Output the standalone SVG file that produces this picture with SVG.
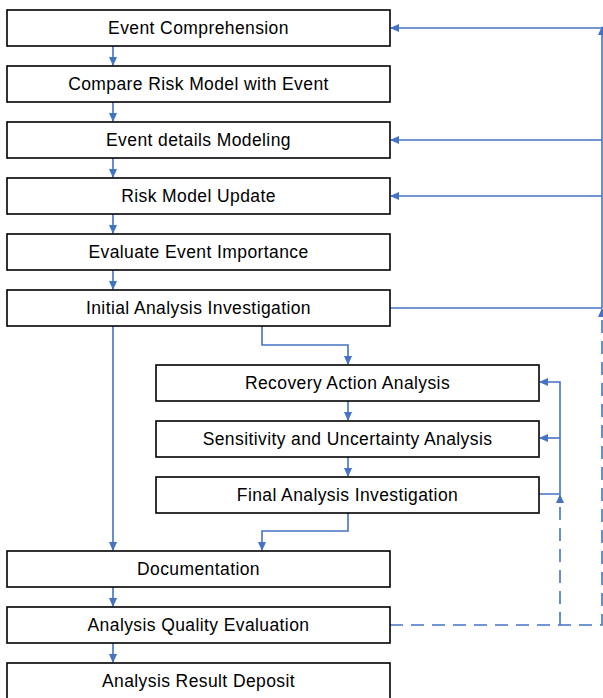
<svg xmlns="http://www.w3.org/2000/svg" width="603" height="698" viewBox="0 0 603 698">
<style>
.box{fill:#fff;stroke:#000;stroke-width:1.6}
.t{font-family:"Liberation Sans",Arial,sans-serif;font-size:17.5px;letter-spacing:0.4px;fill:#000;text-anchor:middle}
.c{fill:none;stroke:#4472C4;stroke-width:1.6}
.d{stroke-dasharray:13,8}
</style>
<defs>
<marker id="a" markerWidth="10" markerHeight="10" refX="8" refY="4" orient="auto" markerUnits="userSpaceOnUse">
<path d="M0,0 L9,4 L0,8 Z" fill="#4472C4"/>
</marker>
</defs>
<rect width="603" height="698" fill="#fff"/>
<g id="connectors">
<line class="c" x1="113" y1="46" x2="113" y2="65" marker-end="url(#a)"/>
<line class="c" x1="113" y1="102" x2="113" y2="121" marker-end="url(#a)"/>
<line class="c" x1="113" y1="158" x2="113" y2="177" marker-end="url(#a)"/>
<line class="c" x1="113" y1="214" x2="113" y2="233" marker-end="url(#a)"/>
<line class="c" x1="113" y1="270" x2="113" y2="289" marker-end="url(#a)"/>
<line class="c" x1="113" y1="326" x2="113" y2="550" marker-end="url(#a)"/>
<polyline class="c" points="262,326 262,345 348,345 348,364" marker-end="url(#a)"/>
<line class="c" x1="348" y1="401" x2="348" y2="420" marker-end="url(#a)"/>
<line class="c" x1="348" y1="457" x2="348" y2="476" marker-end="url(#a)"/>
<polyline class="c" points="348,513 348,531 262,531 262,550" marker-end="url(#a)"/>
<line class="c" x1="113" y1="587" x2="113" y2="606" marker-end="url(#a)"/>
<line class="c" x1="113" y1="643" x2="113" y2="662" marker-end="url(#a)"/>
<line class="c" x1="390" y1="308" x2="602" y2="308"/>
<line class="c" x1="602" y1="308" x2="602" y2="27" marker-end="url(#a)"/>
<line class="c" x1="602" y1="28" x2="391" y2="28" marker-end="url(#a)"/>
<line class="c" x1="602" y1="140" x2="391" y2="140" marker-end="url(#a)"/>
<line class="c" x1="602" y1="196" x2="391" y2="196" marker-end="url(#a)"/>
<polyline class="c d" points="390,625 602,625 602,309" marker-end="url(#a)"/>
<line class="c d" x1="560" y1="625" x2="560" y2="495" marker-end="url(#a)"/>
<polyline class="c" points="539,494 560,494 560,382 540,382" marker-end="url(#a)"/>
<line class="c" x1="560" y1="438" x2="540" y2="438" marker-end="url(#a)"/>
</g>
<g id="n1"><rect class="box" x="7" y="10" width="383" height="36"/><text class="t" x="198.5" y="34">Event Comprehension</text></g>
<g id="n2"><rect class="box" x="7" y="66" width="383" height="36"/><text class="t" x="198.5" y="90">Compare Risk Model with Event</text></g>
<g id="n3"><rect class="box" x="7" y="122" width="383" height="36"/><text class="t" x="198.5" y="146">Event details Modeling</text></g>
<g id="n4"><rect class="box" x="7" y="178" width="383" height="36"/><text class="t" x="198.5" y="202">Risk Model Update</text></g>
<g id="n5"><rect class="box" x="7" y="234" width="383" height="36"/><text class="t" x="198.5" y="258">Evaluate Event Importance</text></g>
<g id="n6"><rect class="box" x="7" y="290" width="383" height="36"/><text class="t" x="198.5" y="314">Initial Analysis Investigation</text></g>
<g id="n7"><rect class="box" x="156" y="365" width="383" height="36"/><text class="t" x="347.5" y="389">Recovery Action Analysis</text></g>
<g id="n8"><rect class="box" x="156" y="421" width="383" height="36"/><text class="t" x="347.5" y="445">Sensitivity and Uncertainty Analysis</text></g>
<g id="n9"><rect class="box" x="156" y="477" width="383" height="36"/><text class="t" x="347.5" y="501">Final Analysis Investigation</text></g>
<g id="n10"><rect class="box" x="7" y="551" width="383" height="36"/><text class="t" x="198.5" y="575">Documentation</text></g>
<g id="n11"><rect class="box" x="7" y="607" width="383" height="36"/><text class="t" x="198.5" y="631">Analysis Quality Evaluation</text></g>
<g id="n12"><rect class="box" x="7" y="663" width="383" height="40"/><text class="t" x="198.5" y="687">Analysis Result Deposit</text></g>
</svg>
